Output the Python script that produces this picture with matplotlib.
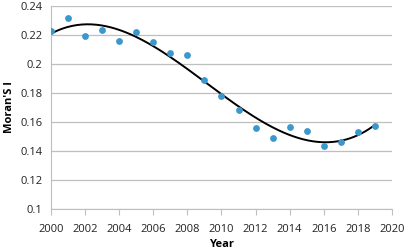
import numpy as np
import matplotlib
matplotlib.use("Agg")
import matplotlib.pyplot as plt

years = [2000, 2001, 2002, 2003, 2004, 2005, 2006, 2007, 2008, 2009,
         2010, 2011, 2012, 2013, 2014, 2015, 2016, 2017, 2018, 2019]
morans_i = [0.223, 0.2315, 0.2193, 0.2232, 0.2161, 0.2219, 0.2154, 0.2073, 0.2061, 0.189,
            0.178, 0.168, 0.156, 0.1492, 0.1563, 0.1535, 0.1434, 0.146, 0.153, 0.157]
trend_degree = 3

plt.rcParams['font.family'] = ['Open Sans', 'DejaVu Sans']

fig = plt.figure(figsize=(4.1, 2.49), dpi=100)
ax = fig.add_axes([0.1244, 0.161, 0.8316, 0.815])

x = np.array(years, dtype=float)
y = np.array(morans_i)
coef = np.polyfit(x - 2000, y, trend_degree)
xs = np.linspace(x.min(), x.max(), 200)
ax.plot(xs, np.polyval(coef, xs - 2000), color='black', lw=1.4, zorder=2)
ax.scatter(x, y, s=24, color='#3C97CB', zorder=3, linewidths=0)

ax.set_xlim(2000, 2020)
ax.set_ylim(0.1, 0.24)
ax.set_xticks(range(2000, 2021, 2))
ax.set_yticks([0.1, 0.12, 0.14, 0.16, 0.18, 0.2, 0.22, 0.24])
ax.set_yticklabels(['0.1', '0.12', '0.14', '0.16', '0.18', '0.2', '0.22', '0.24'])
ax.grid(axis='y', color='#BFBFBF', lw=0.9)
ax.set_axisbelow(True)
for s in ['top', 'right']:
    ax.spines[s].set_visible(False)
ax.spines['left'].set_color('#BFBFBF')
ax.spines['bottom'].set_color('#BFBFBF')
ax.tick_params(axis='y', length=0, labelsize=8, pad=6, colors='#222222')
ax.tick_params(axis='x', length=4, direction='out', color='#BFBFBF', labelsize=8, pad=7, labelcolor='#222222')
ax.set_xlabel('Year', fontsize=8, fontweight='bold', labelpad=3)
ax.set_ylabel("Moran'S I", fontsize=8, fontweight='bold', labelpad=4)

fig.savefig('out.png', dpi=100)
